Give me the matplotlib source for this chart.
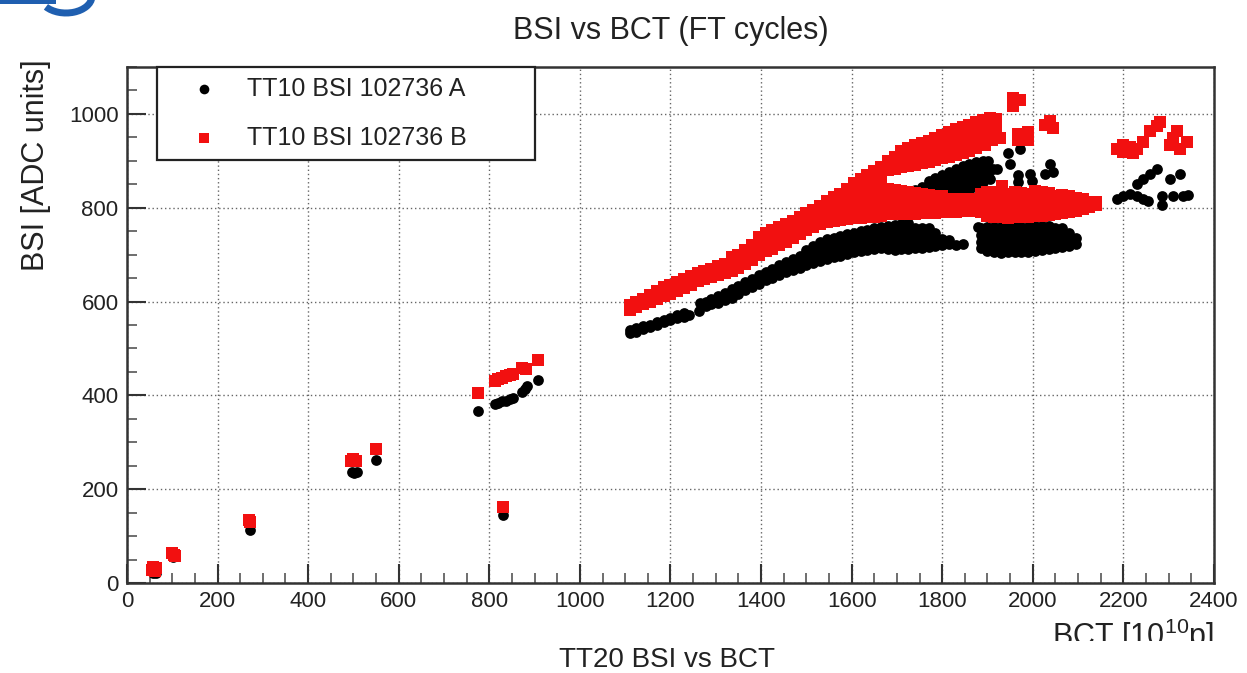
import numpy as np
import matplotlib
matplotlib.use("Agg")
import matplotlib.pyplot as plt
from matplotlib.patches import Rectangle, Arc
from matplotlib.ticker import MultipleLocator

plt.rcParams['font.family'] = ['Liberation Sans', 'DejaVu Sans']
plt.rcParams['mathtext.default'] = 'regular'

# ---------------------------------------------------------------------------
# Measurements: each tuple is (BCT, BSI, BSI, ...) = one BCT value with the
# BSI readings recorded at that intensity.
# ---------------------------------------------------------------------------
label_a = "TT10 BSI 102736 A"
label_b = "TT10 BSI 102736 B"

# Monitor A (black)
a_low = [(57, 22), (61, 26), (65, 21), (102, 55), (106, 57), (272, 112),
         (497, 237), (502, 234), (507, 236), (550, 262), (775, 367), (831, 145),
         (812, 381), (820, 384), (828, 387), (836, 389), (845, 392), (852, 395),
         (873, 408), (879, 414), (884, 420), (907, 433)]

a_main = [
    (1110, 532, 539), (1125, 536, 543), (1140, 541, 547), (1155, 546, 551),
    (1170, 551, 556), (1185, 556, 561), (1200, 560, 566), (1215, 564, 571),
    (1230, 568, 575), (1242, 572), (1264, 580), (1266, 598),
    (1278, 590, 600), (1290, 594, 605), (1305, 598, 612), (1320, 603, 619),
    (1335, 608, 617, 626), (1350, 616, 624, 633), (1365, 624, 632, 641),
    (1380, 631, 640, 649), (1395, 638, 647, 656), (1410, 645, 654, 663),
    (1425, 651, 660, 670), (1440, 657, 667, 677), (1455, 662, 673, 684),
    (1470, 667, 679, 691), (1485, 672, 685, 698), (1500, 677, 690, 704, 710),
    (1515, 682, 695, 709, 718), (1530, 686, 700, 714, 726), (1545, 691, 705, 719, 733),
    (1560, 694, 708, 722, 736), (1575, 698, 712, 726, 740), (1590, 702, 716, 730, 744),
    (1605, 705, 719, 733, 747), (1620, 708, 722, 736, 750), (1635, 711, 725, 739, 753),
    (1650, 713, 727, 741, 756), (1665, 715, 729, 743, 758),
    (1680, 712, 726, 740, 754, 762), (1695, 711, 725, 739, 753, 764),
    (1710, 712, 726, 740, 754, 766), (1725, 713, 727, 741, 755, 768),
    (1740, 714, 728, 742, 757), (1755, 715, 729, 743, 756), (1770, 716, 730, 744, 756),
    (1785, 718, 732, 746), (1800, 720, 734), (1815, 722, 732), (1830, 720),
    (1846, 722),
]

a_wedge = [
    (1725, 790, 805, 820, 830), (1740, 795, 810, 825, 838), (1755, 800, 815, 830, 845),
    (1770, 805, 820, 835, 850, 856), (1785, 810, 825, 840, 855, 863),
    (1800, 815, 830, 845, 860, 870), (1815, 820, 835, 850, 865, 876),
    (1830, 826, 841, 856, 871, 882), (1845, 832, 847, 862, 877, 888),
    (1860, 838, 853, 868, 883, 893), (1875, 845, 860, 875, 890, 898),
    (1890, 855, 870, 885, 900), (1902, 870, 885, 900),
]

a_right = [
    (1880, 758), (1885, 714, 728, 742, 756), (1900, 707, 721, 735, 749, 760),
    (1915, 705, 719, 733, 747, 760), (1930, 704, 718, 732, 746, 760),
    (1945, 705, 719, 733, 747, 760), (1960, 706, 720, 734, 748, 760),
    (1975, 705, 719, 733, 747, 760), (1990, 706, 720, 734, 748, 760),
    (2005, 708, 722, 736, 750, 762), (2020, 710, 724, 738, 752, 762),
    (2035, 712, 726, 740, 754, 762), (2050, 714, 728, 742, 756),
    (2065, 716, 730, 744, 756), (2080, 718, 732, 746), (2095, 722, 736),
]

a_scatter = [(1906, 862), (1913, 883), (1921, 883), (1946, 916), (1950, 894),
             (1972, 926), (1968, 869), (1968, 855), (1994, 873), (1998, 858),
             (2027, 873), (2038, 894), (2045, 877)]

a_far = [(2186, 819), (2199, 826), (2214, 830), (2230, 826), (2243, 819), (2254, 815),
         (2230, 851), (2243, 862), (2259, 873), (2274, 883), (2285, 826), (2285, 806),
         (2303, 862), (2325, 873), (2310, 826), (2332, 824), (2342, 828)]

# Monitor B (red)
b_low = [(55, 28), (58, 34), (62, 25), (65, 31), (99, 63), (103, 60), (107, 58),
         (270, 134), (272, 130), (494, 261), (500, 264), (506, 260), (549, 286),
         (775, 406), (830, 163), (812, 430), (820, 436), (828, 438), (836, 441),
         (845, 443), (852, 446), (873, 458), (880, 456), (907, 476)]

b_main = [
    (1110, 583, 592), (1125, 589, 599), (1140, 595, 606), (1155, 600, 614),
    (1170, 605, 622), (1185, 611, 630), (1200, 617, 636), (1215, 623, 642),
    (1230, 629, 648), (1245, 636, 654), (1260, 643, 660), (1275, 648, 665),
    (1290, 653, 670), (1305, 657, 675), (1320, 661, 680),
    (1335, 665, 680, 695), (1350, 672, 686, 700), (1365, 680, 694, 710),
    (1380, 688, 702, 720), (1395, 700, 714, 728, 738), (1410, 707, 721, 735, 746),
    (1425, 713, 727, 741, 752), (1440, 720, 734, 748, 760), (1455, 728, 742, 756, 766),
    (1470, 736, 750, 764, 772), (1485, 744, 758, 772, 780), (1500, 752, 766, 780, 788),
    (1515, 760, 774, 788, 796), (1530, 765, 779, 793, 804), (1545, 769, 783, 797, 811, 814),
    (1560, 772, 786, 800, 814, 822), (1575, 774, 788, 802, 816, 830),
    (1590, 776, 790, 804, 818, 832, 840), (1605, 778, 792, 806, 820, 834, 848, 852),
    (1620, 779, 793, 807, 821, 835, 849, 862),
    (1635, 780, 794, 808, 822, 836, 850, 864, 870),
    (1650, 781, 795, 809, 823, 837, 851, 865, 878),
    (1665, 782, 796, 810, 824, 838, 852, 866, 880, 886),
]

b_upper = [
    (1680, 880, 894, 900), (1695, 883, 897, 908), (1710, 886, 900, 914, 920),
    (1725, 889, 903, 917, 928), (1740, 892, 906, 920, 933), (1755, 895, 909, 923, 938),
    (1770, 898, 912, 926, 940, 943), (1785, 902, 916, 930, 944, 949),
    (1800, 906, 920, 934, 948, 955), (1815, 909, 923, 937, 951, 962),
    (1830, 912, 926, 940, 954, 968), (1845, 916, 930, 944, 958, 972),
    (1860, 921, 935, 949, 963, 977), (1875, 927, 941, 955, 969, 983),
    (1890, 934, 948, 962, 976, 988), (1905, 945, 959, 973, 987, 992),
    (1918, 960, 975, 990),
]

b_lower = [
    (1680, 786, 800, 814, 828, 840), (1695, 786, 800, 814, 828, 838),
    (1710, 786, 800, 814, 828, 836), (1725, 787, 801, 815, 829, 834),
    (1740, 787, 801, 815, 829, 832), (1755, 788, 802, 816, 830),
    (1770, 788, 802, 816, 828), (1785, 789, 803, 817, 826),
    (1800, 790, 804, 818, 824), (1815, 791, 805, 819), (1830, 792, 806, 818),
    (1845, 793, 807, 818), (1860, 794, 808, 818), (1872, 794, 808, 818),
]

b_right = [
    (1885, 790, 804, 818, 830), (1900, 782, 796, 810, 824, 834),
    (1915, 780, 794, 808, 822, 834), (1930, 780, 794, 808, 822, 832),
    (1945, 779, 793, 807, 821, 830), (1960, 780, 794, 808, 822, 834),
    (1975, 781, 795, 809, 823, 832), (1990, 780, 794, 808, 822, 830),
    (2005, 782, 796, 810, 824, 836), (2020, 783, 797, 811, 825, 834),
    (2035, 784, 798, 812, 826, 832), (2050, 786, 800, 814, 826),
    (2065, 788, 802, 816, 828), (2080, 790, 804, 818, 826),
    (2095, 794, 808, 820), (2110, 798, 810, 818), (2125, 802, 812), (2140, 805, 812),
]

b_scatter = [(1894, 933), (1910, 944), (1928, 948), (1932, 847), (1957, 1016),
             (1957, 1033), (1972, 1029), (1968, 958), (1968, 944), (1980, 950),
             (1990, 962), (1990, 944), (2027, 976), (2038, 984), (2045, 969)]

b_far = [(2186, 926), (2199, 933), (2214, 930), (2230, 926), (2243, 941), (2199, 918),
         (2221, 916), (2259, 963), (2274, 975), (2281, 982), (2303, 933), (2310, 948),
         (2318, 963), (2325, 926), (2340, 941)]


def unpack(*groups):
    """Flatten (bct, bsi, bsi, ...) tuples into x / y arrays."""
    xs, ys = [], []
    for group in groups:
        for col in group:
            for y in col[1:]:
                xs.append(col[0])
                ys.append(y)
    return np.array(xs, float), np.array(ys, float)


bct_a, bsi_a = unpack(a_low, a_main, a_wedge, a_right, a_scatter, a_far)
bct_b, bsi_b = unpack(b_low, b_main, b_upper, b_lower, b_right, b_scatter, b_far)

# ---------------------------------------------------------------------------
W, H = 1247, 673
fig = plt.figure(figsize=(W / 100, H / 100), dpi=100)
fig.patch.set_facecolor('white')
ax = fig.add_axes([0.1018, 0.1337, 0.8717, 0.7667])

ax.scatter(bct_a, bsi_a, s=60, marker='o', color='black', linewidths=0,
           label=label_a, zorder=3)
ax.scatter(bct_b, bsi_b, s=68, marker='s', color='#f21010', linewidths=0,
           label=label_b, zorder=4)

ax.set_xlim(0, 2400)
ax.set_ylim(0, 1100)
ax.xaxis.set_major_locator(MultipleLocator(200))
ax.xaxis.set_minor_locator(MultipleLocator(50))
ax.yaxis.set_major_locator(MultipleLocator(200))
ax.yaxis.set_minor_locator(MultipleLocator(50))

ax.grid(True, which='major', color='#666666', linestyle=(0, (1, 2)), linewidth=1.0)
ax.set_axisbelow(True)

ax.tick_params(which='major', direction='in', length=14, width=1.5, color='#333333',
               labelsize=16, labelcolor='#222222', pad=6, top=False, right=False)
ax.tick_params(which='minor', direction='in', length=7, width=1.2, color='#555555',
               top=False, right=False)
for sp in ax.spines.values():
    sp.set_linewidth(1.8)
    sp.set_color('#333333')

ax.set_title('BSI vs BCT (FT cycles)', fontsize=22, pad=20, color='#222222')
ax.set_ylabel('BSI [ADC units]', fontsize=22, loc='top', color='#222222')
ax.yaxis.set_label_coords(-0.0837, 1.015)
ax.yaxis.label.set_verticalalignment('center')
ax.set_xlabel(r'BCT [10$^{10}$p]', fontsize=22, loc='right', color='#222222')
ax.xaxis.set_label_coords(1.0, -0.066)

leg = ax.legend(loc='upper left', bbox_to_anchor=(0.0276, 1.0, 0.348, 0.0),
                mode='expand', borderaxespad=0, fontsize=18, frameon=True,
                fancybox=False, edgecolor='#222222', framealpha=1,
                borderpad=0.4, handlelength=3.0, handletextpad=0.2,
                labelspacing=1.0, scatterpoints=1, markerscale=0.9)
leg.get_frame().set_linewidth(1.6)
for t in leg.get_texts():
    t.set_color('#222222')

# strip of the slide under the canvas, with its caption
fig.add_artist(Rectangle((0, 0), 1, 32 / H, transform=fig.transFigure,
                         facecolor='white', edgecolor='none', zorder=2))
fig.text(0.535, 13 / H, 'TT20 BSI vs BCT', ha='center', va='center',
         fontsize=20, color='#222222', zorder=3)

# corner of the slide logo
fig.add_artist(Rectangle((0, 1 - 4 / H), 56 / W, 4 / H, transform=fig.transFigure,
                         facecolor='#1f5fb0', edgecolor='none', zorder=2))
fig.add_artist(Arc((66 / W, 1 + 4 / H), 52 / W, 34 / H, theta1=225, theta2=355,
                   transform=fig.transFigure, color='#1f5fb0', linewidth=5, zorder=2))

fig.savefig('out.png', dpi=100, facecolor='white')
